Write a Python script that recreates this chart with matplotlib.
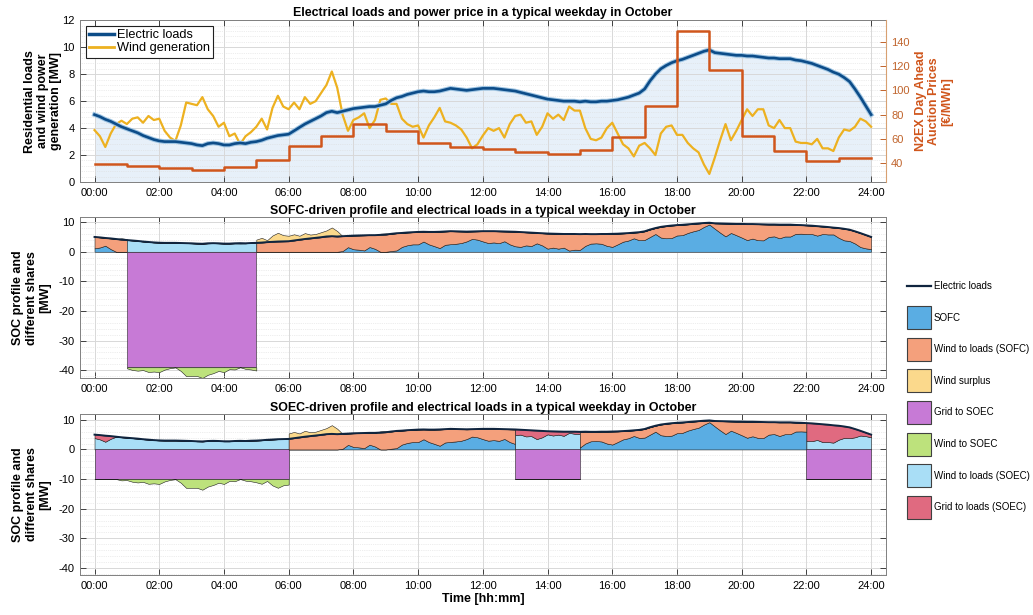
import numpy as np
import matplotlib
matplotlib.use("Agg")
import matplotlib.pyplot as plt
from matplotlib.patches import Rectangle
from matplotlib.lines import Line2D
from matplotlib.ticker import AutoMinorLocator

plt.rcParams['font.family'] = ['Liberation Sans', 'DejaVu Sans']
plt.rcParams['axes.unicode_minus'] = False

# 10-minute samples, 00:00 .. 24:00 (one row per hour)
SPH = 6
hours = np.arange(24 * SPH + 1) / SPH

# electric loads [MW]
load = [5.0, 4.85, 4.65, 4.5, 4.3, 4.1,
        3.95, 3.8, 3.65, 3.45, 3.3, 3.15,
        3.05, 3.0, 3.0, 3.0, 2.95, 2.9,
        2.85, 2.75, 2.7, 2.85, 2.9, 2.85,
        2.75, 2.75, 2.85, 2.9, 2.85, 2.95,
        3.0, 3.1, 3.25, 3.35, 3.45, 3.5,
        3.55, 3.8, 4.05, 4.3, 4.5, 4.7,
        4.9, 5.15, 5.25, 5.15, 5.25, 5.35,
        5.45, 5.5, 5.55, 5.6, 5.6, 5.7,
        5.8, 6.05, 6.25, 6.35, 6.5, 6.6,
        6.7, 6.75, 6.7, 6.7, 6.75, 6.85,
        6.95, 6.9, 6.85, 6.8, 6.85, 6.9,
        6.95, 6.95, 6.95, 6.9, 6.85, 6.8,
        6.75, 6.65, 6.55, 6.45, 6.35, 6.25,
        6.15, 6.1, 6.05, 6.0, 6.0, 6.0,
        5.95, 6.0, 5.95, 5.95, 6.0, 6.0,
        6.05, 6.1, 6.2, 6.3, 6.45, 6.6,
        6.9, 7.5, 8.0, 8.4, 8.65, 8.85,
        9.0, 9.1, 9.25, 9.4, 9.55, 9.7,
        9.8, 9.6, 9.55, 9.5, 9.45, 9.4,
        9.4, 9.35, 9.35, 9.3, 9.25, 9.2,
        9.2, 9.15, 9.15, 9.15, 9.05, 9.0,
        8.9, 8.8, 8.65, 8.5, 8.35, 8.15,
        8.0, 7.75, 7.45, 6.9, 6.3, 5.65,
        5.0]

# wind generation [MW]
wind = [3.85, 3.4, 2.6, 3.6, 4.3, 4.55,
        4.3, 4.7, 4.8, 4.4, 4.9, 4.6,
        4.7, 3.8, 3.3, 3.05, 4.2, 5.9,
        5.8, 5.7, 6.3, 5.4, 4.9, 4.1,
        4.4, 3.4, 3.6, 2.8, 3.4, 3.7,
        4.1, 4.7, 3.9, 5.5, 6.4, 5.6,
        5.4, 5.9, 5.4, 6.3, 5.8, 6.0,
        6.6, 7.2, 8.2, 7.0, 5.0, 3.8,
        4.6, 4.8, 5.1, 4.0, 4.6, 6.1,
        6.2, 5.8, 5.8, 4.7, 4.3, 4.1,
        4.2, 3.3, 4.2, 4.8, 5.5, 4.5,
        4.4, 4.2, 3.9, 3.3, 2.5, 2.8,
        3.45, 4.0, 3.8, 4.0, 3.3, 4.3,
        4.9, 5.0, 4.4, 4.5, 3.5, 4.1,
        5.1, 4.7, 5.0, 4.6, 5.6, 5.3,
        5.3, 4.0, 3.2, 3.1, 3.3, 4.0,
        4.4, 3.6, 2.8, 2.5, 1.9, 2.7,
        2.9, 2.5, 2.0, 3.6, 4.1, 4.2,
        3.5, 3.5, 2.9, 2.5, 2.2, 1.3,
        0.6, 1.8, 3.1, 4.3, 3.1, 3.8,
        4.6, 5.4, 4.9, 5.4, 5.4, 4.2,
        4.0, 4.6, 4.0, 4.0, 3.0, 2.9,
        2.9, 2.8, 3.2, 2.5, 2.5, 2.3,
        3.3, 3.9, 3.8, 4.1, 4.7, 4.5,
        4.1]

# hourly N2EX day-ahead price [EUR/MWh]
price_hours = np.arange(25)
prices = [39.5, 37.6, 35.9, 34.5, 36.7, 42.2, 53.8, 62.1, 72.0, 66.2, 56.6, 53.3,
          51.4, 48.8, 47.4, 51.0, 61.5, 87.4, 148.8, 116.6, 62.6, 49.6, 41.9, 44.1]

# operating schedules: (start h, end h, mode, grid-to-SOEC level MW)
sofc_schedule = [(0, 1, 'SOFC', 0), (1, 5, 'SOEC', -39), (5, 24, 'SOFC', 0)]
soec_schedule = [(0, 6, 'SOEC', -10), (6, 13, 'SOFC', 0), (13, 15, 'SOEC', -10),
                 (15, 22, 'SOFC', 0), (22, 24, 'SOEC', -10)]

tick_hours = list(range(0, 25, 2))
tick_labels = ['%02d:00' % h for h in tick_hours]

load = np.array(load)
wind = np.array(wind)

C_LOAD = '#0c4c88'
C_WIND = '#edb120'
C_PRICE = '#d0561c'
C_RAX = '#c0642c'
C_SOFC = '#5aade3'
C_W2L_SOFC = '#f4a07c'
C_SURPLUS = '#fbd98c'
C_G2SOEC = '#c77ad6'
C_W2SOEC = '#bde27c'
C_W2L_SOEC = '#a9def6'
C_G2L_SOEC = '#e06a80'
C_LINE = '#10253f'

W_PX, H_PX = 1033, 615


def style(ax, right_ticks=True):
    ax.set_xlim(-0.45, 24.45)
    ax.set_xticks(tick_hours)
    ax.set_xticklabels(tick_labels)
    ax.yaxis.set_minor_locator(AutoMinorLocator(5))
    ax.tick_params(which='major', direction='in', top=True, right=right_ticks,
                   labelsize=8, length=4, width=0.7, color='#404040', pad=4)
    ax.tick_params(which='minor', length=0)
    ax.set_axisbelow(True)
    ax.grid(which='major', color='#d8d8d8', lw=0.7)
    ax.grid(which='minor', axis='y', color='#dcdcdc', lw=0.5, ls=':')
    for s in ax.spines.values():
        s.set_color('#808080')
        s.set_linewidth(0.7)


def draw_shares(ax, schedule):
    ek = dict(edgecolor='#202020', linewidth=0.4)
    for start, end, mode, level in schedule:
        i0, i1 = int(start * SPH), int(end * SPH) + 1
        t = hours[i0:i1]
        L = load[i0:i1]
        W = wind[i0:i1]
        if mode == 'SOFC':
            sofc = np.clip(L - W, 0, None)
            ax.fill_between(t, 0, sofc, color=C_SOFC, zorder=2, **ek)
            ax.fill_between(t, sofc, L, color=C_W2L_SOFC, zorder=2, **ek)
            ax.fill_between(t, L, np.maximum(W, L), color=C_SURPLUS, zorder=2, **ek)
        else:
            w2l = np.minimum(W, L)
            ax.fill_between(t, 0, w2l, color=C_W2L_SOEC, zorder=2, **ek)
            ax.fill_between(t, w2l, L, color=C_G2L_SOEC, zorder=2, **ek)
            ax.fill_between(t, level, 0, color=C_G2SOEC, zorder=2, **ek)
            ax.fill_between(t, level - np.clip(W - L, 0, None), level,
                            color=C_W2SOEC, zorder=2, **ek)
    ax.plot(hours, load, color=C_LINE, lw=1.4, zorder=3)


fig = plt.figure(figsize=(10.33, 6.15), dpi=100)
ax1 = fig.add_axes([0.0774, 0.704, 0.780, 0.263])
ax2 = fig.add_axes([0.0774, 0.385, 0.780, 0.262])
ax3 = fig.add_axes([0.0774, 0.065, 0.780, 0.262])

ylab = dict(fontsize=9, fontweight='bold', linespacing=1.15)

# --- top panel: loads, wind, price
style(ax1, right_ticks=False)
ax1.fill_between(hours, 0, load, color='#e7f0f9', lw=0, zorder=0.2)
ax1.plot(hours, wind, color=C_WIND, lw=1.6, zorder=3)
ax1.plot(hours, load, color='#9ec4e2', lw=3.4, zorder=4)
ax1.plot(hours, load, color=C_LOAD, lw=1.9, zorder=5)
ax1.set_ylim(0, 12)
ax1.set_yticks(range(0, 13, 2))
ax1.set_title('Electrical loads and power price in a typical weekday in October',
              fontsize=8.9, fontweight='bold', pad=3)
ax1.set_ylabel('Residential loads\nand wind power\ngeneration [MW]', **ylab)
ax1.yaxis.set_label_coords(-0.022, 0.5)

ax1r = ax1.twinx()
ax1r.step(price_hours, prices + [prices[-1]], where='post', color=C_PRICE, lw=1.8)
ax1r.set_ylim(24.3, 158)
ax1r.set_yticks(range(40, 141, 20))
ax1r.tick_params(direction='in', labelsize=8, length=4, width=0.7,
                 colors=C_RAX, pad=4)
for side, s in ax1r.spines.items():
    s.set_visible(side == 'right')
ax1r.spines['right'].set_color('#d8a070')
ax1r.set_ylabel('N2EX Day Ahead\nAuction Prices\n[€/MWh]', color=C_PRICE, **ylab)
ax1r.yaxis.set_label_coords(1.036, 0.5)

leg1 = ax1.legend(handles=[Line2D([], [], color=C_LOAD, lw=2.5),
                           Line2D([], [], color=C_WIND, lw=2.0)],
                  labels=['Electric loads', 'Wind generation'],
                  loc='upper left', bbox_to_anchor=(0.007, 0.965), borderaxespad=0,
                  fontsize=9.2, fancybox=False, edgecolor='#202020', framealpha=1,
                  handlelength=2.0, handletextpad=0.2, borderpad=0.25,
                  labelspacing=0.1)
leg1.get_frame().set_linewidth(0.8)
leg1.set_zorder(10)

# --- middle panel: SOFC-driven
style(ax2)
draw_shares(ax2, sofc_schedule)
ax2.set_ylim(-42.7, 11.7)
ax2.set_yticks(range(-40, 11, 10))
ax2.set_title('SOFC-driven profile and electrical loads in a typical weekday in October',
              fontsize=8.9, fontweight='bold', pad=2)
ax2.set_ylabel('SOC profile and\ndifferent shares\n[MW]', **ylab)
ax2.yaxis.set_label_coords(-0.036, 0.5)

# --- bottom panel: SOEC-driven
style(ax3)
draw_shares(ax3, soec_schedule)
ax3.set_ylim(-42.4, 12)
ax3.set_yticks(range(-40, 11, 10))
ax3.set_title('SOEC-driven profile and electrical loads in a typical weekday in October',
              fontsize=8.9, fontweight='bold', pad=2)
ax3.set_ylabel('SOC profile and\ndifferent shares\n[MW]', **ylab)
ax3.yaxis.set_label_coords(-0.036, 0.5)
ax3.set_xlabel('Time [hh:mm]', fontsize=9, fontweight='bold', labelpad=2)

# --- shared legend on the right (drawn by hand to match MATLAB spacing)
legend_items = [('Electric loads', None), ('SOFC', C_SOFC),
                ('Wind to loads (SOFC)', C_W2L_SOFC), ('Wind surplus', C_SURPLUS),
                ('Grid to SOEC', C_G2SOEC), ('Wind to SOEC', C_W2SOEC),
                ('Wind to loads (SOEC)', C_W2L_SOEC),
                ('Grid to loads (SOEC)', C_G2L_SOEC)]
x0, x1 = 907 / W_PX, 931 / W_PX
for k, (label, color) in enumerate(legend_items):
    yc = 1 - (286 + 31.6 * k) / H_PX
    if color is None:
        fig.add_artist(Line2D([x0, x1], [yc, yc], color=C_LINE, lw=1.6,
                              transform=fig.transFigure))
    else:
        h = 23 / H_PX
        fig.add_artist(Rectangle((x0, yc - h / 2), x1 - x0, h, facecolor=color,
                                 edgecolor='#404040', lw=0.8,
                                 transform=fig.transFigure))
    fig.text(934 / W_PX, yc, label, fontsize=7.0, va='center', ha='left')

fig.savefig('out.png', dpi=100)
